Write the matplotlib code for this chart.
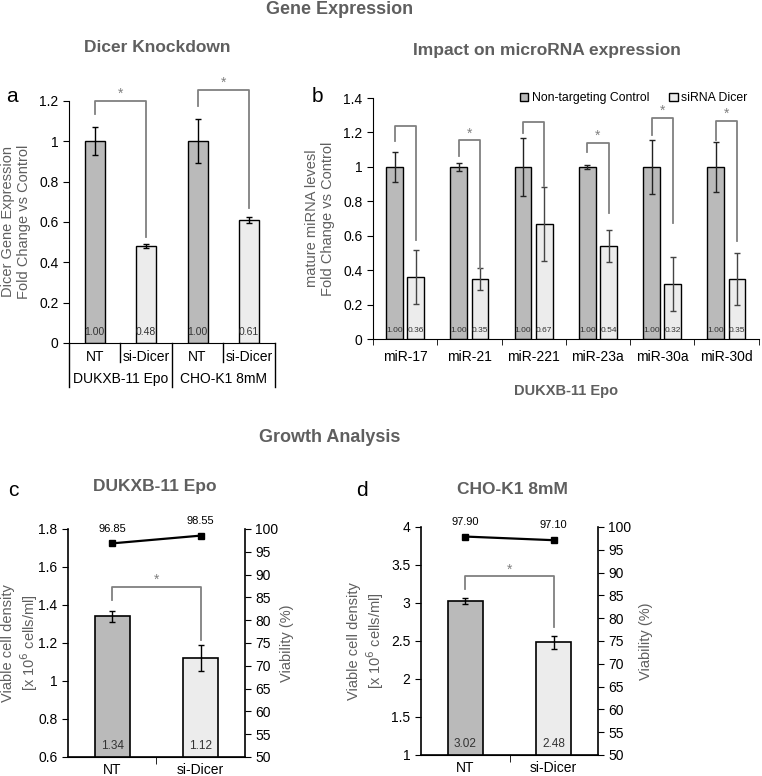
import matplotlib.pyplot as plt
from matplotlib.patches import Patch

plt.rcParams['font.family'] = ['Liberation Sans', 'DejaVu Sans']

# panel a - Dicer knockdown
a_labels = ['NT', 'si-Dicer', 'NT', 'si-Dicer']
a_groups = ['DUKXB-11 Epo', 'CHO-K1 8mM']
a_values = [1.00, 0.48, 1.00, 0.61]
a_errors = [0.07, 0.01, 0.11, 0.015]
# brackets: left x, right x, left leg bottom, right leg bottom, top, star
a_brackets = [(0, 1, 1.134, 0.526, 1.20, True),
              (2, 3, 1.175, 0.667, 1.254, True)]

# panel b - microRNA expression
b_mirs = ['miR-17', 'miR-21', 'miR-221', 'miR-23a', 'miR-30a', 'miR-30d']
b_ctrl = [1.00, 1.00, 1.00, 1.00, 1.00, 1.00]
b_ctrl_err = [0.085, 0.025, 0.17, 0.01, 0.155, 0.145]
b_dicer = [0.36, 0.35, 0.67, 0.54, 0.32, 0.35]
b_dicer_err = [0.155, 0.065, 0.215, 0.095, 0.155, 0.15]
b_brackets = [(1.148, 0.577, 1.235, False),
              (1.065, 0.41, 1.154, True),
              (1.197, 0.89, 1.263, False),
              (1.084, 0.73, 1.139, True),
              (1.187, 0.674, 1.284, True),
              (1.158, 0.567, 1.265, True)]

# panels c, d - growth
growth_labels = ['NT', 'si-Dicer']
c_density = [1.34, 1.12]
c_density_err = [0.03, 0.07]
c_viability = [96.85, 98.55]
c_bracket = (1.425, 1.214, 1.495)
d_density = [3.02, 2.48]
d_density_err = [0.04, 0.08]
d_viability = [97.90, 97.10]
d_bracket = (3.19, 2.69, 3.35)

DARK = '#bababa'
LIGHT = '#ececec'
GREY = '#5f5f5f'
BRK = '#808080'

fig = plt.figure(figsize=(7.62, 7.76), dpi=100)

def bracket(ax, x0, x1, y0, y1, top, star):
    ax.plot([x0, x0, x1, x1], [y0, top, top, y1], color=BRK, lw=1.3, clip_on=False)
    if star:
        ax.text((x0 + x1) / 2, top, '*', ha='center', va='bottom', color=BRK, fontsize=10)

def style(ax):
    ax.spines['top'].set_visible(False)
    ax.spines['right'].set_visible(False)
    ax.tick_params(axis='y', labelsize=10, length=4)

# ---- panel a
ax = fig.add_axes([0.0906, 0.558, 0.270, 0.312])
xa = range(len(a_values))
ax.bar(xa, a_values, width=0.39, color=[DARK, LIGHT, DARK, LIGHT], edgecolor='black', lw=1)
ax.errorbar(xa, a_values, yerr=a_errors, fmt='none', ecolor='black', capsize=2.5, lw=1)
for x, v in zip(xa, a_values):
    ax.text(x, 0.03, f'{v:.2f}', ha='center', va='bottom', fontsize=7.5, color='#333333')
for x0, x1, y0, y1, top, star in a_brackets:
    bracket(ax, x0, x1, y0, y1, top, star)
ax.set_xlim(-0.5, 3.5)
ax.set_ylim(0, 1.2)
ax.set_yticks([0, 0.2, 0.4, 0.6, 0.8, 1.0, 1.2])
ax.set_yticklabels(['0', '0.2', '0.4', '0.6', '0.8', '1', '1.2'])
ax.set_xticks([])
style(ax)
tr = ax.get_xaxis_transform()
for x, lab in zip(xa, a_labels):
    ax.text(x, -0.058, lab, transform=tr, ha='center', va='center', fontsize=10)
for i, g in enumerate(a_groups):
    ax.text(2 * i + 0.5, -0.149, g, transform=tr, ha='center', va='center', fontsize=10)
for x in [-0.5, 1.5, 3.5]:
    ax.plot([x, x], [0, -0.182], transform=tr, color='black', lw=1, clip_on=False)
for x in [0.5, 2.5]:
    ax.plot([x, x], [0, -0.079], transform=tr, color='black', lw=1, clip_on=False)
ax.set_ylabel('Dicer Gene Expression\nFold Change vs Control', color=GREY, fontsize=10.5, labelpad=6)

# ---- panel b
ax = fig.add_axes([0.4895, 0.5631, 0.506, 0.3106])
xb = range(len(b_mirs))
off = 0.165
xl = [x - off for x in xb]
xr = [x + off for x in xb]
ax.bar(xl, b_ctrl, width=0.26, color=DARK, edgecolor='black', lw=1)
ax.bar(xr, b_dicer, width=0.26, color=LIGHT, edgecolor='black', lw=1)
ax.errorbar(xl, b_ctrl, yerr=b_ctrl_err, fmt='none', ecolor='#222222', capsize=2, lw=1)
ax.errorbar(xr, b_dicer, yerr=b_dicer_err, fmt='none', ecolor='#444444', capsize=2, lw=1)
for x, v in zip(xl + xr, b_ctrl + b_dicer):
    ax.text(x, 0.03, f'{v:.2f}', ha='center', va='bottom', fontsize=6, color='#333333')
for i, (y0, y1, top, star) in enumerate(b_brackets):
    bracket(ax, xl[i], xr[i], y0, y1, top, star)
ax.set_xlim(-0.5, 5.5)
ax.set_ylim(0, 1.4)
ax.set_yticks([0, 0.2, 0.4, 0.6, 0.8, 1.0, 1.2, 1.4])
ax.set_yticklabels(['0', '0.2', '0.4', '0.6', '0.8', '1', '1.2', '1.4'])
ax.set_xticks(list(xb))
ax.set_xticklabels(b_mirs, fontsize=10)
ax.set_xticks([x + 0.5 for x in range(-1, 6)], minor=True)
ax.tick_params(axis='x', which='major', length=0, pad=8)
ax.tick_params(axis='x', which='minor', length=4)
style(ax)
ax.set_ylabel('mature miRNA levesl\nFold Change vs Control', color=GREY, fontsize=10.5, labelpad=6)
ax.set_xlabel('DUKXB-11 Epo', color=GREY, fontsize=10.5, fontweight='bold', labelpad=14)
handles = [Patch(facecolor=DARK, edgecolor='black', label='Non-targeting Control'),
           Patch(facecolor=LIGHT, edgecolor='black', label='siRNA Dicer')]
ax.legend(handles=handles, loc='upper right', bbox_to_anchor=(1.0, 1.07), ncol=2, frameon=False,
          fontsize=8.8, handlelength=0.7, handleheight=0.7, handletextpad=0.3, columnspacing=1.6)

# ---- panels c, d
def growth(rect, dens, dens_err, viab, brk, ylim, yticks, yticklabels, lab_x, rlab_x):
    ax = fig.add_axes(rect)
    xg = range(len(dens))
    ax.bar(xg, dens, width=0.4, color=[DARK, LIGHT], edgecolor='black', lw=1.2)
    ax.errorbar(xg, dens, yerr=dens_err, fmt='none', ecolor='black', capsize=2.5, lw=1)
    for x, v in zip(xg, dens):
        ax.text(x, ylim[0] + (ylim[1] - ylim[0]) * 0.02, f'{v:.2f}', ha='center', va='bottom',
                fontsize=8.5, color='#333333')
    bracket(ax, 0, 1, brk[0], brk[1], brk[2], True)
    ax.set_xlim(-0.5, 1.5)
    ax.set_ylim(*ylim)
    ax.set_yticks(yticks)
    ax.set_yticklabels(yticklabels)
    ax.set_xticks(list(xg))
    ax.set_xticklabels(growth_labels, fontsize=10)
    ax.set_xticks([0.5], minor=True)
    ax.tick_params(axis='x', which='major', length=0, pad=4)
    ax.tick_params(axis='x', which='minor', length=5)
    style(ax)
    ax.spines['left'].set_linewidth(1.2)
    ax.spines['bottom'].set_linewidth(1.2)
    ax.set_ylabel('Viable cell density\n[x 10$^6$ cells/ml]', color=GREY, fontsize=10.5)
    ax.yaxis.set_label_coords(lab_x, 0.5)
    ax2 = ax.twinx()
    ax2.plot(list(xg), viab, color='black', marker='s', markersize=5, lw=1.6)
    for x, v in zip(xg, viab):
        ax2.annotate(f'{v:.2f}', (x, v), xytext=(0, 7), textcoords='offset points',
                     ha='center', va='bottom', fontsize=8)
    ax2.set_ylim(50, 100)
    ax2.set_yticks(range(50, 101, 5))
    ax2.tick_params(axis='y', labelsize=10, length=4)
    ax2.spines['top'].set_visible(False)
    ax2.spines['left'].set_visible(False)
    ax2.spines['right'].set_linewidth(1.2)
    ax2.set_ylabel('Viability (%)', color=GREY, fontsize=10.5)
    ax2.yaxis.set_label_coords(rlab_x, 0.5)

growth([0.0892, 0.0245, 0.2323, 0.2938], c_density, c_density_err, c_viability, c_bracket,
       (0.6, 1.8), [0.6, 0.8, 1.0, 1.2, 1.4, 1.6, 1.8], ['0.6', '0.8', '1', '1.2', '1.4', '1.6', '1.8'],
       -0.16, 1.20)
growth([0.5525, 0.0271, 0.2323, 0.2938], d_density, d_density_err, d_viability, d_bracket,
       (1, 4), [1, 1.5, 2, 2.5, 3, 3.5, 4], ['1', '1.5', '2', '2.5', '3', '3.5', '4'],
       -0.20, 1.23)

# titles and panel letters
fig.text(340 / 762, 1 - 10 / 776, 'Gene Expression', ha='center', va='center', fontsize=13, fontweight='bold', color=GREY)
fig.text(157 / 762, 1 - 48 / 776, 'Dicer Knockdown', ha='center', va='center', fontsize=12.5, fontweight='bold', color=GREY)
fig.text(547 / 762, 1 - 50 / 776, 'Impact on microRNA expression', ha='center', va='center', fontsize=12.5, fontweight='bold', color=GREY)
fig.text(330 / 762, 1 - 438 / 776, 'Growth Analysis', ha='center', va='center', fontsize=13, fontweight='bold', color=GREY)
fig.text(155 / 762, 1 - 487 / 776, 'DUKXB-11 Epo', ha='center', va='center', fontsize=12.5, fontweight='bold', color=GREY)
fig.text(512 / 762, 1 - 490 / 776, 'CHO-K1 8mM', ha='center', va='center', fontsize=12.5, fontweight='bold', color=GREY)
for x, y, s in [(12, 97, 'a'), (317, 97, 'b'), (13, 490, 'c'), (362, 490, 'd')]:
    fig.text(x / 762, 1 - y / 776, s, ha='center', va='center', fontsize=15)

fig.savefig('out.png', dpi=100)
